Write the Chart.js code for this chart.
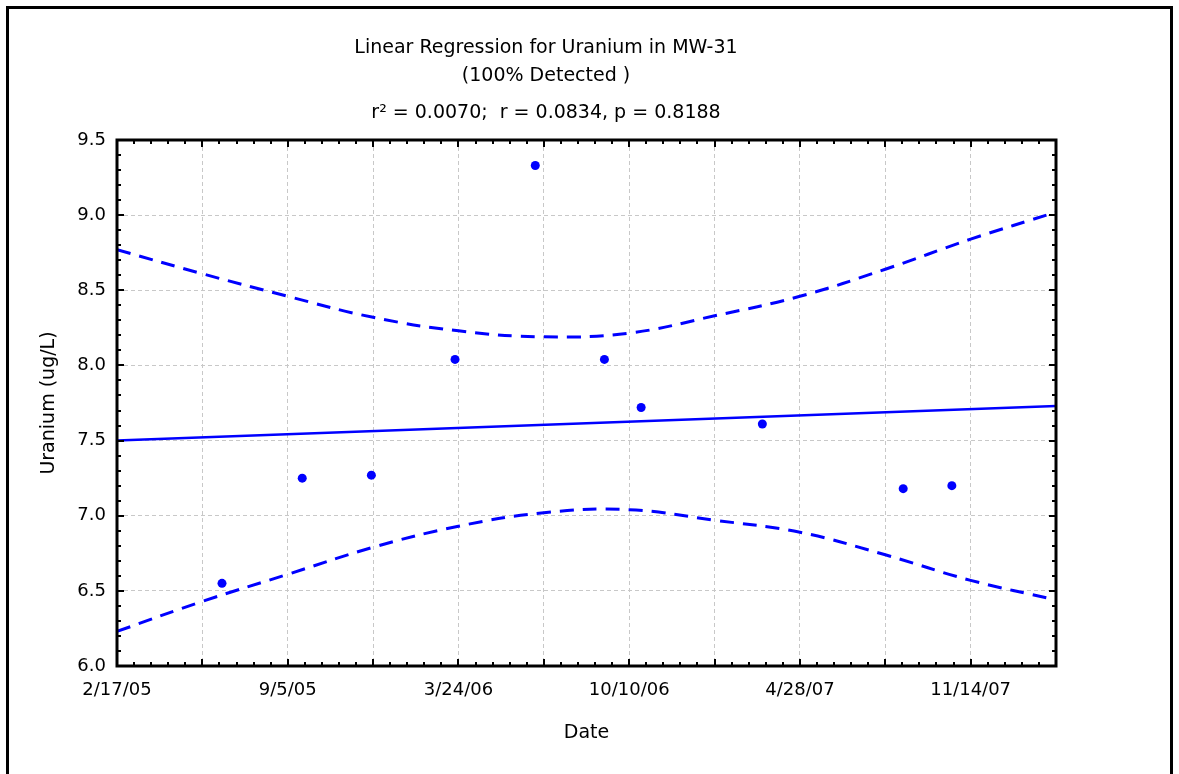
<!DOCTYPE html>
<html><head><meta charset="utf-8">
<script src="https://cdn.jsdelivr.net/npm/chart.js@4.4.1/dist/chart.umd.min.js"></script>
<style>
html,body{margin:0;padding:0;background:#fff;width:1179px;height:774px;overflow:hidden;}
#frame{position:absolute;left:6px;top:6px;width:1161px;height:800px;border:3px solid #000;}
#wrap{position:absolute;left:0;top:0;width:1179px;height:774px;}
</style></head><body>
<div id="frame"></div>
<div id="wrap"><canvas id="c" width="1179" height="774"></canvas></div>
<script>
// ---- data ----
const titleLines = ['Linear Regression for Uranium in MW-31', '(100% Detected )', 'r\u00B2 = 0.0070;  r = 0.0834, p = 0.8188'];
const xAxisTitle = 'Date';
const yAxisTitle = 'Uranium (ug/L)';
const sampleDates = ['2005-06-20','2005-09-22','2005-12-12','2006-03-20','2006-06-22','2006-09-11','2006-10-24','2007-03-15','2007-08-27','2007-10-23'];
const uranium = [6.55, 7.25, 7.27, 8.04, 9.33, 8.04, 7.72, 7.61, 7.18, 7.20];
const fitDates = ['2005-02-17','2008-02-22'];
const fitValues = [7.50, 7.73];
const bandDates = ['2005-02-17','2005-05-28','2005-09-05','2005-12-14','2006-03-24','2006-07-02','2006-10-10','2007-01-18','2007-04-28','2007-08-06','2007-11-14','2008-02-22'];
const upperBand = [8.77, 8.61, 8.46, 8.32, 8.23, 8.19, 8.215, 8.33, 8.46, 8.64, 8.84, 9.02];
const lowerBand = [6.23, 6.43, 6.61, 6.79, 6.93, 7.02, 7.04, 6.97, 6.89, 6.74, 6.57, 6.44];
const xTickLabels = ['2/17/05','9/5/05','3/24/06','10/10/06','4/28/07','11/14/07'];
const yTickLabels = ['6.0','6.5','7.0','7.5','8.0','8.5','9.0','9.5'];
const xRange = ['2005-02-17','2008-02-22'];

const DAY = 86400000;
const t = s => Date.parse(s + 'T00:00:00Z');
const pts = (ds, vs) => ds.map((d, i) => ({x: t(d), y: vs[i]}));
const xMin = t(xRange[0]), xMax = t(xRange[1]);
const BLUE = 'rgb(0,0,255)';
const FONT = "'DejaVu Sans', sans-serif";

const headerPlugin = {
  id: 'header',
  afterDraw(chart) {
    const ctx = chart.ctx;
    ctx.save();
    ctx.fillStyle = '#000';
    ctx.textAlign = 'center';
    ctx.textBaseline = 'middle';
    ctx.font = "19px " + FONT;
    const ys = [48, 76, 113];
    titleLines.forEach((s, i) => ctx.fillText(s, 546, ys[i]));
    ctx.restore();
  }
};

const framePlugin = {
  id: 'frameTicks',
  afterDatasetsDraw(chart) {
    const {ctx, chartArea: a, scales: {x, y}} = chart;
    ctx.save();
    ctx.strokeStyle = '#000';
    ctx.lineWidth = 2;
    ctx.beginPath();
    // x ticks every 20 days, major every 100
    for (let k = 0; k * 20 * DAY <= xMax - xMin + 1; k++) {
      const px = Math.round(x.getPixelForValue(xMin + k * 20 * DAY));
      const len = (k % 5 === 0) ? 7 : 4;
      ctx.moveTo(px, a.bottom); ctx.lineTo(px, a.bottom - len);
      ctx.moveTo(px, a.top); ctx.lineTo(px, a.top + len);
    }
    for (let k = 0; k <= 35; k++) {
      const py = Math.round(y.getPixelForValue(6 + k * 0.1));
      const len = (k % 5 === 0) ? 7 : 4;
      ctx.moveTo(a.left, py); ctx.lineTo(a.left + len, py);
      ctx.moveTo(a.right, py); ctx.lineTo(a.right - len, py);
    }
    ctx.stroke();
    ctx.lineWidth = 3;
    ctx.strokeRect(a.left, a.top, a.right - a.left, a.bottom - a.top);
    ctx.restore();
  }
};

new Chart(document.getElementById('c'), {
  type: 'scatter',
  data: {
    datasets: [
      {data: pts(sampleDates, uranium), backgroundColor: BLUE, borderColor: BLUE, pointRadius: 4.5, pointBorderWidth: 0, showLine: false, order: 0},
      {data: pts(fitDates, fitValues), showLine: true, borderColor: BLUE, borderWidth: 2.5, pointRadius: 0, order: 1},
      {data: pts(bandDates, upperBand), showLine: true, borderColor: BLUE, borderWidth: 3, borderDash: [14, 9], tension: 0.4, pointRadius: 0, order: 2},
      {data: pts(bandDates, lowerBand), showLine: true, borderColor: BLUE, borderWidth: 3, borderDash: [14, 9], tension: 0.4, pointRadius: 0, order: 3}
    ]
  },
  options: {
    responsive: false,
    animation: false,
    devicePixelRatio: 1,
    layout: {padding: {left: 0, right: 123, top: 140, bottom: 0}},
    plugins: {legend: {display: false}, tooltip: {enabled: false}, title: {display: false}},
    scales: {
      x: {
        type: 'linear', min: xMin, max: xMax,
        afterFit(s) { s.height = 108; },
        afterBuildTicks(s) {
          const ticks = [];
          for (let k = 0; k <= 11; k++) ticks.push({value: xMin + k * 100 * DAY});
          s.ticks = ticks;
        },
        ticks: {
          autoSkip: false, maxRotation: 0, padding: 14, color: '#000',
          font: {family: FONT, size: 18},
          callback: (v, i) => (i % 2 === 0 && xTickLabels[i / 2]) ? xTickLabels[i / 2] : ''
        },
        grid: {color: '#c8c8c8', lineWidth: 1, drawTicks: false, borderDash: [4, 3]},
        border: {display: false, dash: [4, 3]},
        title: {display: true, text: xAxisTitle, color: '#000', font: {family: FONT, size: 19}, padding: {top: 30, bottom: 30}}
      },
      y: {
        type: 'linear', min: 6, max: 9.5,
        afterFit(s) { s.width = 117; },
        afterBuildTicks(s) { s.ticks = yTickLabels.map(l => ({value: parseFloat(l)})); },
        ticks: {
          padding: 11, color: '#000', font: {family: FONT, size: 18},
          callback: (v, i) => yTickLabels[i]
        },
        grid: {color: '#c8c8c8', lineWidth: 1, drawTicks: false, borderDash: [4, 3]},
        border: {display: false, dash: [4, 3]},
        title: {display: true, text: yAxisTitle, color: '#000', font: {family: FONT, size: 19}, padding: {top: 38, bottom: 38}}
      }
    }
  },
  plugins: [headerPlugin, framePlugin]
});
</script>
</body></html>
